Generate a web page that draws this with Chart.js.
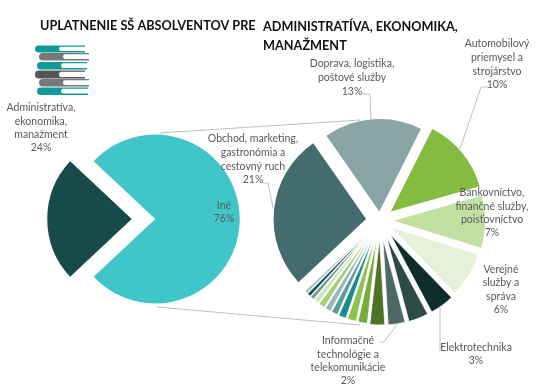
<!DOCTYPE html>
<html><head><meta charset="utf-8">
<style>html,body{margin:0;padding:0;background:#fff}canvas{position:absolute;left:0;top:0}</style>
<script src="https://cdn.jsdelivr.net/npm/chart.js@4"></script></head>
<body>
<canvas id="mainPie" width="550" height="390"></canvas>
<canvas id="subPie" width="550" height="390"></canvas>
<script>
const mainCategories = ["Administratíva, ekonomika, manažment", "Iné"];
const mainValues = [24, 76];
const mainColors = ["#174A4A", "#40C5C9"];

const subCategories = ["Doprava, logistika, poštové služby", "Automobilový priemysel a strojárstvo",
  "Bankovníctvo, finančné služby, poisťovníctvo", "Verejné služby a správa", "Elektrotechnika",
  "Ostatné 1", "Informačné technológie a telekomunikácie", "Ostatné 2", "Ostatné 3", "Ostatné 4",
  "Ostatné 5", "Ostatné 6", "Ostatné 7", "Ostatné 8", "Ostatné 9", "Ostatné 10", "Ostatné 11", "Ostatné 12",
  "Obchod, marketing, gastronómia a cestovný ruch"];
const subValues = [13, 10, 7, 6, 3.4, 2.8, 2.4, 2.1, 1.35, 1.25, 1.1, 0.9, 0.85, 0.9, 0.7, 0.55, 0.5, 0.45, 20.7];
const subColors = ["#89A5A5", "#84BC41", "#C2E0A0", "#E5F1D8", "#0E2E2E", "#2B4A48", "#4E6868",
  "#4E7228", "#76AC3A", "#8CC34E", "#1C8C8C", "#5B9C9C", "#9DB8B8", "#A5D078", "#D0E6BA", "#6F9A9B", "#1E4F50", "#A8C0C0",
  "#446B6E"];
const subExplode = [9, 14, 14, 14, 17.5, 18, 18, 18, 18, 18, 18, 18, 18, 18, 18, 18, 18, 18, 14];
const subEdges = [0, 0, 0, 0, 0.8, 0.8, 0.8, 0.8, 0.8, 0.8, 0.8, 0.8, 0.8, 0.8, 0.8, 0.8, 0.8, 0.8, 0];

const labels = [
  {c:41,  y:[108,122,135,148], t:["Administratíva,","ekonomika,","manažment","24%"]},
  {c:224, y:[206,219], t:["Iné","76%"]},
  {c:253, y:[139,153,167,180], t:["Obchod, marketing,","gastronómia a","cestovný ruch","21%"]},
  {c:352, y:[64,78,92], t:["Doprava, logistika,","poštové služby","13%"]},
  {c:497, y:[44,58,72,85], t:["Automobilový","priemysel a","strojárstvo","10%"]},
  {c:492, y:[193,207,220,233], t:["Bankovníctvo,","finančné služby,","poisťovníctvo","7%"]},
  {c:501, y:[270,283,297,310], t:["Verejné","služby a","správa","6%"]},
  {c:476, y:[348,361], t:["Elektrotechnika","3%"]},
  {c:348, y:[341,355,368,381], t:["Informačné","technológie a","telekomunikácie","2%"]}
];
const leaders = [
  [[160,133],[360,120]], [[157,307],[360,325]],
  [[263,183],[268,183],[273,208]],
  [[362,94],[370,94],[371,120]],
  [[488,87],[481,87],[460,149]],
  [[380,342],[384,342],[398,323]],
  [[440,307],[440,351]]
];

function fitRadius(target){
  return {
    id:'fitRadius',
    afterDatasetsUpdate(chart){
      chart.getDatasetMeta(0).data.forEach(a=>{
        const off = a.options.offset/4;
        const fix = 1-Math.sin(Math.min(Math.PI,a.circumference));
        const r = target(a.circumference*180/Math.PI);
        a.outerRadius = r-off*fix;
        const widen = (off*fix/Math.PI)/r/2;
        a.startAngle -= widen;
        a.endAngle += widen;
      });
    }
  };
}
function book(ctx,x0,x1,y,h,col){
  ctx.fillStyle=col;
  ctx.beginPath();ctx.roundRect(x0,y,x1-x0,h,[h/2,0,0,h/2]);ctx.fill();
  ctx.fillStyle="#fff";
  ctx.beginPath();ctx.roundRect(x0+24,y+1.3,x1-x0-23,h-2.8,[h/2,0,0,h/2]);ctx.fill();
}
const overlay = {
  id:'overlay',
  afterDraw(chart){
    const ctx=chart.ctx;
    ctx.save();
    ctx.strokeStyle="#BFBFBF";ctx.lineWidth=1;
    leaders.forEach(p=>{ctx.beginPath();p.forEach((q,i)=>i?ctx.lineTo(q[0],q[1]):ctx.moveTo(q[0],q[1]));ctx.stroke();});
    ctx.textBaseline="middle";
    ctx.fillStyle="#111";ctx.font="bold 12.7px Lato";ctx.textAlign="left";
    ctx.fillText("UPLATNENIE SŠ ABSOLVENTOV PRE",40,26);
    ctx.fillText("ADMINISTRATÍVA, EKONOMIKA,",263,27);
    ctx.fillText("MANAŽMENT",263,46);
    ctx.font="10.5px Lato";ctx.textAlign="center";
    ctx.fillStyle="#595959";
    labels.forEach(l=>l.t.forEach((s,i)=>ctx.fillText(s,l.c,l.y[i])));
    book(ctx,35,85,45.5,7,"#0E9A97");
    book(ctx,39,89,53,7.5,"#777");
    book(ctx,37,87,62,7.5,"#0E9A97");
    book(ctx,35,85,70.5,8,"#555");
    book(ctx,39,89,79,7.5,"#777");
    book(ctx,37,88,87.5,7.5,"#0E9A97");
    ctx.restore();
  }
};
const base = {responsive:false,animation:false,events:[],
  plugins:{legend:{display:false},tooltip:{enabled:false}}};
new Chart(document.getElementById('mainPie'),{
  type:'pie',
  data:{labels:mainCategories,datasets:[{data:mainValues,backgroundColor:mainColors,borderWidth:0,offset:47}]},
  options:{...base,radius:85,rotation:226.8,layout:{padding:{left:0,right:263,top:48,bottom:0}}},
  plugins:[fitRadius(()=>84.5)]
});
new Chart(document.getElementById('subPie'),{
  type:'pie',
  data:{labels:subCategories,datasets:[{data:subValues,backgroundColor:subColors,borderColor:"#fff",borderWidth:subEdges,offset:subExplode.map(t=>t*4)}]},
  options:{...base,radius:92,rotation:-34.9,layout:{padding:{left:210,right:0,top:51,bottom:0}}},
  plugins:[fitRadius(d=>Math.min(92.5,84.5+d*0.2)),overlay]
});
</script>
</body></html>
